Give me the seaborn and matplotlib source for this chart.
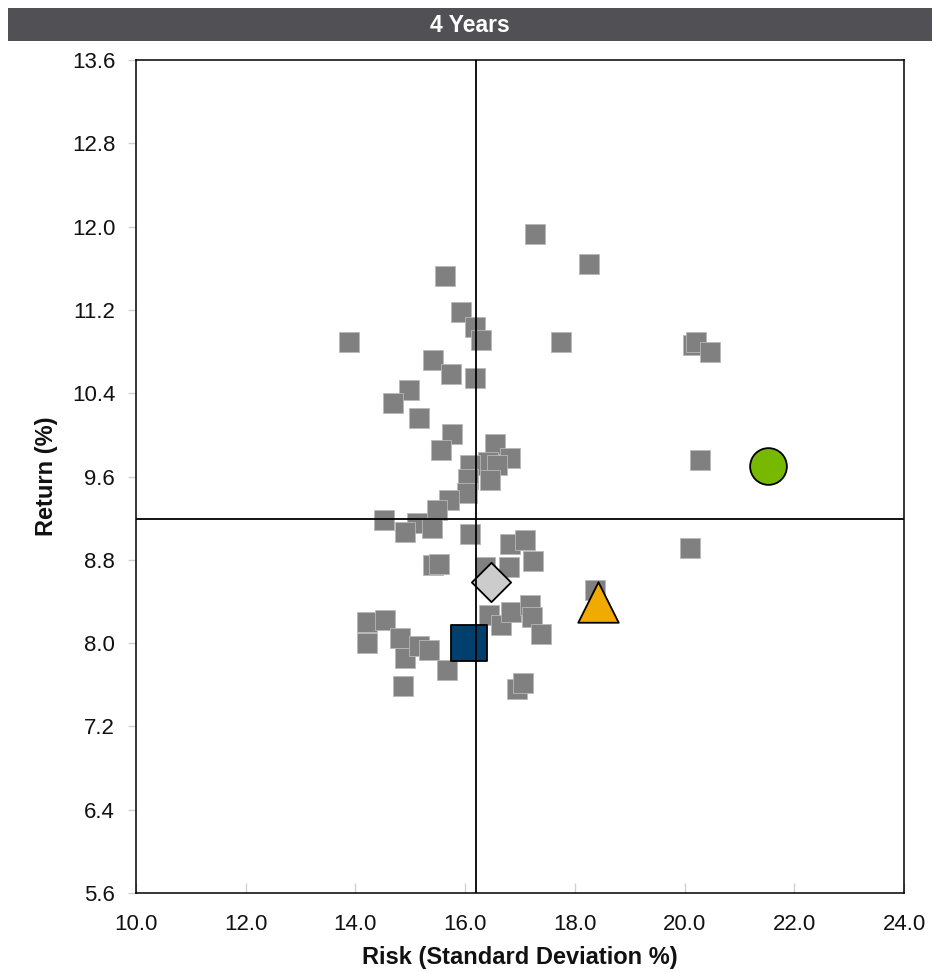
"""
Risk / return scatter for the 4-year window.
"""

import numpy as np
import pandas as pd
import matplotlib
matplotlib.use("Agg")
import matplotlib.pyplot as plt
import seaborn as sns


# peer universe (grey squares)
PEER_RISK = [
    13.88, 15.63, 15.92, 16.18, 16.29, 17.27, 18.26, 17.75, 20.15, 20.21,
    20.46, 20.28, 20.10, 15.41, 15.74, 16.18, 14.98, 14.68, 15.16, 15.76,
    15.56, 16.54, 16.82, 16.42, 16.58, 16.45, 16.09, 16.05, 16.03, 15.71,
    15.49, 15.12, 15.40, 14.52, 14.90, 16.09, 16.82, 17.09, 15.41, 15.52,
    16.36, 16.80, 17.24, 18.37, 14.21, 14.54, 14.21, 14.81, 14.90, 15.16,
    15.34, 15.67, 16.14, 14.87, 16.43, 16.65, 16.84, 17.18, 17.22, 17.38,
    16.94, 17.05,
]
PEER_RETURN = [
    10.89, 11.53, 11.18, 11.04, 10.91, 11.93, 11.64, 10.89, 10.86, 10.89,
    10.80, 9.76, 8.91, 10.72, 10.58, 10.55, 10.43, 10.31, 10.16, 10.01,
    9.85, 9.91, 9.78, 9.74, 9.71, 9.57, 9.71, 9.58, 9.44, 9.37,
    9.28, 9.15, 9.11, 9.18, 9.07, 9.05, 8.95, 8.99, 8.75, 8.76,
    8.73, 8.73, 8.79, 8.51, 8.20, 8.22, 8.00, 8.05, 7.86, 7.97,
    7.93, 7.74, 7.93, 7.59, 8.27, 8.17, 8.30, 8.37, 8.25, 8.09,
    7.56, 7.62,
]

# highlighted series: (risk, return)
FUND = (16.07, 8.00)        # navy square
BENCH = (16.47, 8.59)       # light grey diamond
INDEX_A = (18.42, 8.39)     # amber triangle
INDEX_B = (21.52, 9.70)     # green circle

# crosshair (peer medians)
MEDIAN_RISK = 16.20
MEDIAN_RETURN = 9.19

X_TICKS = [10.0, 12.0, 14.0, 16.0, 18.0, 20.0, 22.0, 24.0]
Y_TICKS = [5.6, 6.4, 7.2, 8.0, 8.8, 9.6, 10.4, 11.2, 12.0, 12.8, 13.6]
TITLE = '4 Years'


def setup_style():
    sns.set_style("white")
    plt.rcParams['font.family'] = ['Liberation Sans', 'DejaVu Sans']
    plt.rcParams['font.size'] = 12


def plot_risk_return(output_path='out.png'):
    setup_style()
    fig = plt.figure(figsize=(9.4, 9.72), dpi=100)

    # title bar
    bar = fig.add_axes([8 / 940, 1 - 41 / 972, 924 / 940, 33 / 972])
    bar.set_facecolor('#505055')
    bar.set_xticks([])
    bar.set_yticks([])
    for s in bar.spines.values():
        s.set_visible(False)
    bar.text(0.5, 0.47, TITLE, ha='center', va='center', color='white',
             fontsize=16.5, fontweight='bold', transform=bar.transAxes)

    ax = fig.add_axes([136 / 940, 1 - 893 / 972, 768 / 940, 833 / 972])

    peers = pd.DataFrame({'risk': PEER_RISK, 'ret': PEER_RETURN})
    sns.scatterplot(data=peers, x='risk', y='ret', marker='s', s=225,
                    color='#808080', edgecolor='#B8B8B8', linewidth=0.6,
                    ax=ax, zorder=2)

    highlights = [
        (FUND, 's', 700, '#003F6E'),
        (BENCH, 'D', 400, '#CCCCCC'),
        (INDEX_A, '^', 850, '#F0AA00'),
        (INDEX_B, 'o', 700, '#76B900'),
    ]
    for (xv, yv), mk, size, col in highlights:
        sns.scatterplot(x=[xv], y=[yv], marker=mk, s=size, color=col,
                        edgecolor='black', linewidth=1.3, ax=ax, zorder=3)

    ax.axvline(MEDIAN_RISK, color='black', linewidth=1.3, zorder=4)
    ax.axhline(MEDIAN_RETURN, color='black', linewidth=1.3, zorder=4)

    ax.set_xlim(X_TICKS[0], X_TICKS[-1])
    ax.set_ylim(Y_TICKS[0], Y_TICKS[-1])
    ax.set_xticks(X_TICKS)
    ax.set_yticks(Y_TICKS)
    ax.set_xticklabels([f'{v:.1f}' for v in X_TICKS])
    ax.set_yticklabels([f'{v:.1f}' for v in Y_TICKS])
    ax.tick_params(axis='x', bottom=True, direction='in', length=7, width=1,
                   color='#D0D0D0', pad=15, labelsize=16, labelcolor='#111111')
    ax.tick_params(axis='y', left=True, direction='out', length=6, width=1,
                   color='#D0D0D0', pad=9, labelsize=16, labelcolor='#111111')

    for s in ax.spines.values():
        s.set_color('black')
        s.set_linewidth(1.1)

    ax.set_xlabel('Risk (Standard Deviation %)', fontsize=17,
                  fontweight='bold', labelpad=8, color='#111111')
    ax.set_ylabel('Return (%)', fontsize=17, fontweight='bold',
                  labelpad=10, color='#111111')

    fig.savefig(output_path, dpi=100)
    return fig


plot_risk_return('out.png')
